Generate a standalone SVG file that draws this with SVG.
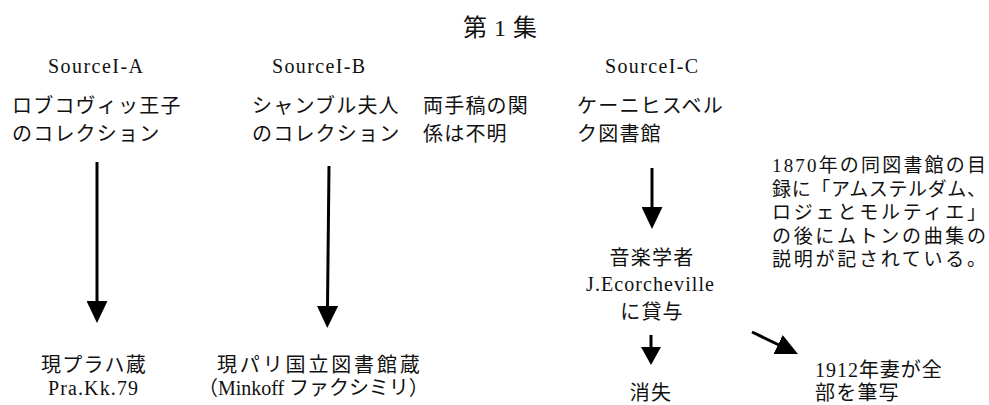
<svg xmlns="http://www.w3.org/2000/svg" width="989" height="405" viewBox="0 0 989 405">
<style>
text{font-family:"Liberation Serif","Noto Sans CJK JP",serif;fill:#111;}
.t{font-size:24px}
.src{font-size:20px}
.jp{font-size:20px;letter-spacing:1.2px}
.note{font-size:19px}
.mid{text-anchor:middle}
.conn line{stroke:#000;stroke-width:3}
</style>
<defs>
<marker id="head" viewBox="0 0 22 21" refX="1" refY="10.5" markerWidth="22" markerHeight="21" markerUnits="userSpaceOnUse" orient="auto">
<path d="M0,0 L22,10.5 L0,21 Z" fill="#000"/>
</marker>
<marker id="headS" viewBox="0 0 18 20" refX="1" refY="10" markerWidth="18" markerHeight="20" markerUnits="userSpaceOnUse" orient="auto">
<path d="M0,0 L18,10 L0,20 Z" fill="#000"/>
</marker>
</defs>
<rect width="989" height="405" fill="#fff"/>
<g id="title"><text class="t" x="463" y="36" textLength="74" lengthAdjust="spacing">第1集</text></g>
<g id="srcA">
<text class="src" x="48" y="73" textLength="95" lengthAdjust="spacing">SourceI-A</text>
<text class="jp" x="12" y="113">ロブコヴィッ王子</text>
<text class="jp" x="12" y="141">のコレクション</text>
</g>
<g id="srcB">
<text class="src" x="272" y="73" textLength="93" lengthAdjust="spacing">SourceI-B</text>
<text class="jp" x="252" y="113">シャンブル夫人</text>
<text class="jp" x="252" y="141">のコレクション</text>
</g>
<g id="relation">
<text class="jp" x="423" y="113">両手稿の関</text>
<text class="jp" x="423" y="141">係は不明</text>
</g>
<g id="srcC">
<text class="src" x="605" y="73" textLength="93" lengthAdjust="spacing">SourceI-C</text>
<text class="jp" x="577" y="113">ケーニヒスベル</text>
<text class="jp" x="577" y="141">ク図書館</text>
</g>
<g id="catalogNote">
<text class="note" x="772" y="172" textLength="214" lengthAdjust="spacing">1870年の同図書館の目</text>
<text class="note" x="772" y="196" textLength="214" lengthAdjust="spacing">録に「アムステルダム、</text>
<text class="note" x="772" y="219" textLength="214" lengthAdjust="spacing">ロジェとモルティエ」</text>
<text class="note" x="772" y="243" textLength="214" lengthAdjust="spacing">の後にムトンの曲集の</text>
<text class="note" x="772" y="266" textLength="214" lengthAdjust="spacing">説明が記されている。</text>
</g>
<g id="loan">
<text class="jp mid" x="652" y="265">音楽学者</text>
<text class="src mid" x="650" y="291" textLength="128" lengthAdjust="spacing">J.Ecorcheville</text>
<text class="jp mid" x="652" y="319">に貸与</text>
</g>
<g id="lost"><text class="jp mid" x="651" y="400">消失</text></g>
<g id="copy">
<text class="jp" x="815" y="377" textLength="128" lengthAdjust="spacing">1912年妻が全</text>
<text class="jp" x="815" y="400">部を筆写</text>
</g>
<g id="prague">
<text class="jp mid" x="94" y="372">現プラハ蔵</text>
<text class="src mid" x="93" y="395" textLength="90" lengthAdjust="spacing">Pra.Kk.79</text>
</g>
<g id="paris">
<text class="jp" x="217" y="372" textLength="204" lengthAdjust="spacing">現パリ国立図書館蔵</text>
<text class="jp" x="198" y="395" textLength="232" lengthAdjust="spacing">（Minkoff ファクシミリ）</text>
</g>
<g id="connectors" class="conn">
<line x1="97" y1="162" x2="97" y2="302" marker-end="url(#head)"/>
<line x1="329" y1="166" x2="327.5" y2="307" marker-end="url(#head)"/>
<line x1="652" y1="168" x2="652" y2="208" marker-end="url(#head)"/>
<line x1="651" y1="335" x2="651" y2="348" marker-end="url(#headS)"/>
<line x1="752" y1="332" x2="779" y2="345" marker-end="url(#head)"/>
</g>
</svg>
